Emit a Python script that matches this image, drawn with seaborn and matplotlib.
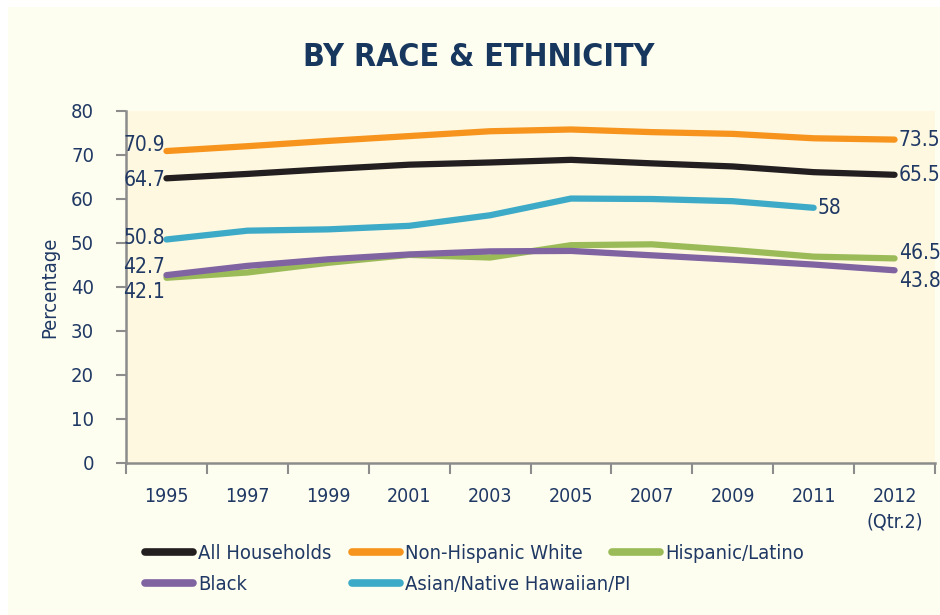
import pandas as pd
import numpy as np
import seaborn as sns
import matplotlib.pyplot as plt
from matplotlib.lines import Line2D
from matplotlib.patches import Rectangle

# data
years = ['1995', '1997', '1999', '2001', '2003', '2005', '2007', '2009', '2011', '2012\n(Qtr.2)']
all_households = [64.7, 65.7, 66.8, 67.8, 68.3, 68.9, 68.1, 67.4, 66.1, 65.5]
non_hispanic_white = [70.9, 72.0, 73.2, 74.3, 75.4, 75.8, 75.2, 74.8, 73.8, 73.5]
hispanic_latino = [42.1, 43.3, 45.5, 47.3, 46.7, 49.5, 49.7, 48.4, 46.9, 46.5]
black = [42.7, 44.8, 46.3, 47.4, 48.1, 48.2, 47.2, 46.2, 45.1, 43.8]
asian = [50.8, 52.8, 53.1, 53.9, 56.3, 60.1, 60.0, 59.5, 58.0, np.nan]

series = {
    'All Households': all_households,
    'Non-Hispanic White': non_hispanic_white,
    'Hispanic/Latino': hispanic_latino,
    'Black': black,
    'Asian/Native Hawaiian/PI': asian,
}
palette = {
    'All Households': '#231F20',
    'Non-Hispanic White': '#F7941D',
    'Hispanic/Latino': '#9BBB59',
    'Black': '#8064A2',
    'Asian/Native Hawaiian/PI': '#3DAAC7',
}

rows = []
for name, vals in series.items():
    for yr, v in zip(years, vals):
        rows.append({'year': yr, 'group': name, 'pct': v})
df = pd.DataFrame(rows).dropna()

navy = '#1F3864'
grey = '#8C8C8C'

sns.set_style('white')
plt.rcParams['font.family'] = ['DejaVu Sans']
plt.rcParams['font.stretch'] = 'condensed'

fig = plt.figure(figsize=(9.4, 6.15), dpi=100)
fig.patch.set_facecolor('white')
fig.patches.append(Rectangle((8 / 940, 0), 1, 1 - 7 / 615, transform=fig.transFigure,
                             facecolor='#FEFEF0', edgecolor='none', zorder=-10))

ax = fig.add_axes([126 / 940, 1 - 463 / 615, (935 - 126) / 940, (463 - 111) / 615])
ax.set_facecolor('#FEF8E0')

sns.lineplot(data=df, x='year', y='pct', hue='group', palette=palette,
             hue_order=list(series.keys()), linewidth=4.5, legend=False,
             solid_capstyle='round', ax=ax)

ax.set_xlim(-0.5, len(years) - 0.5)
ax.set_ylim(0, 80)
ax.set_yticks(range(0, 81, 10))
ax.set_xticks(range(len(years)))
ax.set_xticklabels(years, linespacing=1.45)
ax.set_xticks(np.arange(-0.5, len(years), 1), minor=True)
ax.tick_params(axis='x', which='both', bottom=True)
ax.tick_params(axis='y', which='both', left=True)
ax.tick_params(axis='x', which='major', length=0, pad=17, labelsize=14, labelcolor=navy)
ax.tick_params(axis='x', which='minor', length=8, width=1.5, color=grey, direction='out')
ax.tick_params(axis='y', length=7, width=1.5, color=grey, direction='out', pad=16,
               labelsize=14.5, labelcolor=navy)
for lab in ax.get_xticklabels():
    lab.set_verticalalignment('top')

sns.despine(ax=ax)
for s in ['left', 'bottom']:
    ax.spines[s].set_color(grey)
    ax.spines[s].set_linewidth(1.8)

ax.set_xlabel('')
ax.set_ylabel('Percentage', fontsize=14.5, color=navy)
ax.yaxis.set_label_coords(-0.082, 0.5)

# end-point value labels
lab_kw = dict(textcoords='offset points', fontsize=15, color=navy, annotation_clip=False)
ax.annotate('70.9', (0, 70.9), xytext=(-1, 4), ha='right', va='center', **lab_kw)
ax.annotate('64.7', (0, 64.7), xytext=(-1, -1), ha='right', va='center', **lab_kw)
ax.annotate('50.8', (0, 50.8), xytext=(-1, 1), ha='right', va='center', **lab_kw)
ax.annotate('42.7', (0, 42.7), xytext=(-1, 6), ha='right', va='center', **lab_kw)
ax.annotate('42.1', (0, 42.1), xytext=(-1, -10), ha='right', va='center', **lab_kw)
last = len(years) - 1
ax.annotate('73.5', (last, 73.5), xytext=(3, 0), ha='left', va='center', **lab_kw)
ax.annotate('65.5', (last, 65.5), xytext=(3, 0), ha='left', va='center', **lab_kw)
ax.annotate('58', (last - 1, 58.0), xytext=(3, 0), ha='left', va='center', **lab_kw)
ax.annotate('46.5', (last, 46.5), xytext=(3, 4), ha='left', va='center', **lab_kw)
ax.annotate('43.8', (last, 43.8), xytext=(3, -8), ha='left', va='center', **lab_kw)

fig.text(479 / 940, 1 - 58 / 615, 'BY RACE & ETHNICITY', ha='center', va='center',
         fontsize=23, fontweight='bold', color='#17375E')

# legend laid out as in the reference: three column groups
def handle(name):
    return Line2D([], [], color=palette[name], linewidth=5.5, solid_capstyle='round')

leg_kw = dict(loc='upper left', frameon=False, fontsize=14.5, handlelength=2.4,
              handletextpad=0.25, labelspacing=0.62, borderaxespad=0, borderpad=0,
              labelcolor=navy)
cols = [(['All Households', 'Black'], 145),
        (['Non-Hispanic White', 'Asian/Native Hawaiian/PI'], 352),
        (['Hispanic/Latino'], 612)]
for names, x0 in cols:
    leg = fig.legend([handle(n) for n in names], names,
                     bbox_to_anchor=(x0 / 940, 1 - 544 / 615), **leg_kw)

fig.savefig('out.png', dpi=100, facecolor=fig.get_facecolor())
